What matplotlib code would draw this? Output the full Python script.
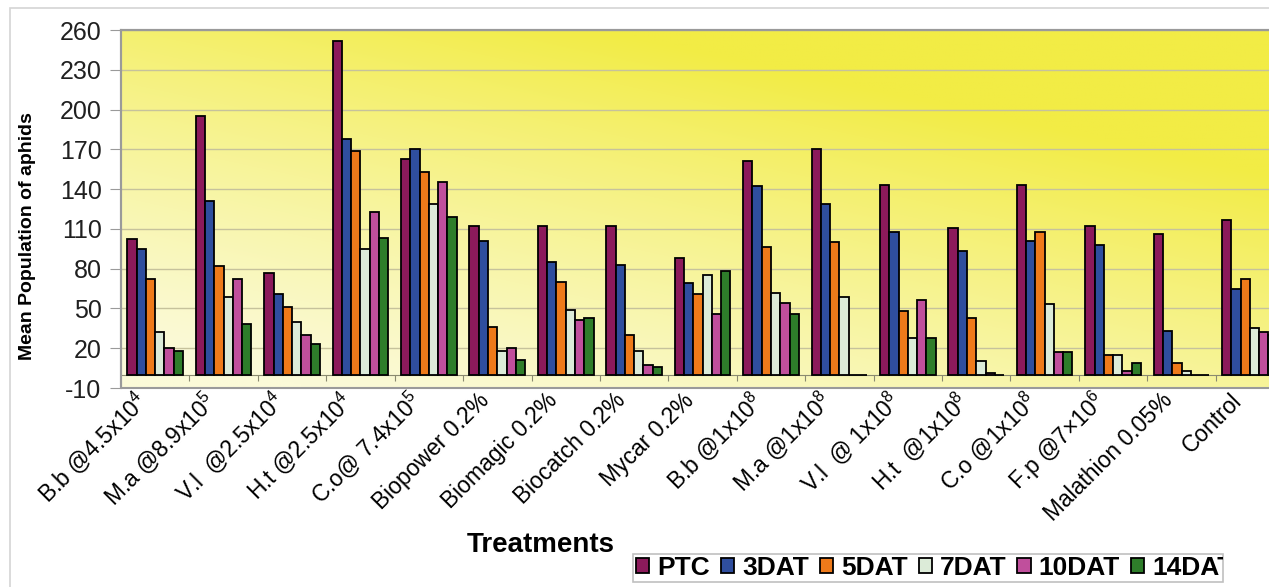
import matplotlib
matplotlib.use("Agg")
import matplotlib.pyplot as plt
import matplotlib.transforms as mtransforms
from matplotlib.patches import Rectangle
from matplotlib.colors import to_rgb
import numpy as np

plt.rcParams['font.family'] = ['Liberation Sans', 'DejaVu Sans']
plt.rcParams['mathtext.fontset'] = 'custom'
plt.rcParams['mathtext.rm'] = 'Liberation Sans'
plt.rcParams['mathtext.it'] = 'Liberation Sans:italic'
plt.rcParams['mathtext.bf'] = 'Liberation Sans:bold'
plt.rcParams['axes.unicode_minus'] = False

# treatments (x categories)
treatments = ["B.b @4.5x10$^{4}$", "M.a @8.9x10$^{5}$", "V.l  @2.5x10$^{4}$",
              "H.t @2.5x10$^{4}$", "C.o@ 7.4x10$^{5}$", "Biopower 0.2%",
              "Biomagic 0.2%", "Biocatch 0.2%", "Mycar 0.2%", "B.b @1x10$^{8}$",
              "M.a @1x10$^{8}$", "V.l  @ 1x10$^{8}$", "H.t  @1x10$^{8}$",
              "C.o @1x10$^{8}$", "F.p @7\u00d710$^{6}$", "Malathion 0.05%", "Control"]

# mean aphid population per observation day
ptc   = [102, 195, 77, 252, 163, 112, 112, 112, 88, 161, 170, 143, 111, 143, 112, 106, 117]
dat3  = [95, 131, 61, 178, 170, 101, 85, 83, 69, 142, 129, 108, 93, 101, 98, 33, 65]
dat5  = [72, 82, 51, 169, 153, 36, 70, 30, 61, 96, 100, 48, 43, 108, 15, 9, 72]
dat7  = [32, 59, 40, 95, 129, 18, 49, 18, 75, 62, 59, 28, 10, 53, 15, 3, 35]
dat10 = [20, 72, 30, 123, 145, 20, 41, 7, 46, 54, 0, 56, 1, 17, 3, 0, 32]
dat14 = [18, 38, 23, 103, 119, 11, 43, 6, 78, 46, 0, 28, 0, 17, 9, 0, 30]

series_names = ["PTC", "3DAT", "5DAT", "7DAT", "10DAT", "14DAT"]
series_vals = [ptc, dat3, dat5, dat7, dat10, dat14]
colors = ["#8C1A5B", "#2F4E9E", "#EE7A1A", "#DCEBD8", "#C04F9C", "#2E7D2A"]

W, H = 1269, 587
fig = plt.figure(figsize=(W / 100, H / 100), dpi=100)
fig.patch.set_facecolor("white")

# outer chart border
fig.patches.append(Rectangle((10 / W, -0.1), 1.2, (H - 8) / H + 0.1, transform=fig.transFigure,
                             fill=False, edgecolor="#D4D4D4", lw=1.2))

ax = fig.add_axes([121 / W, (H - 388) / H, 17 * 68.42 / W, 358 / H])

# yellow gradient plot area
nx, ny = 300, 150
gx, gy = np.meshgrid(np.linspace(0, 1, nx), np.linspace(0, 1, ny))
t = np.clip(0.6 * gx + 0.85 * gy - 0.1, 0, 1) ** 1.2
c0 = np.array(to_rgb("#FBFAD8"))
c1 = np.array(to_rgb("#F2EC45"))
img = c0[None, None, :] * (1 - t[..., None]) + c1[None, None, :] * t[..., None]
ax.imshow(img, extent=[0, 1, 0, 1], transform=ax.transAxes, origin="lower",
          aspect="auto", zorder=-2, interpolation="bilinear")

x = np.arange(len(treatments))
bw = 0.1355
for j, (name, vals, col) in enumerate(zip(series_names, series_vals, colors)):
    ax.bar(x + (j - 2.5) * bw, vals, width=bw, color=col, edgecolor="black",
           linewidth=1.3, label=name, zorder=3)

ax.set_xlim(-0.5, len(treatments) - 0.5)
ax.set_ylim(-10, 260)
ax.set_yticks(np.arange(-10, 261, 30))
ax.yaxis.grid(True, color="#C6C29C", lw=1.0, zorder=1)
ax.set_axisbelow(True)

# category axis at zero with boundary ticks
ax.spines["bottom"].set_position(("data", 0))
ax.spines["bottom"].set_color("#8A8A70")
ax.set_xticks(x[:-1] + 0.5)
ax.set_xticklabels([])
ax.tick_params(axis="x", which="major", direction="out", length=4, color="#8A8A70")
ax.set_xticks(x, minor=True)
ax.set_xticklabels(treatments, minor=True, rotation=45, ha="right", va="center",
                   rotation_mode="anchor", fontsize=16.5)
ax.tick_params(axis="x", which="minor", length=0, pad=16)
offset = mtransforms.ScaledTranslation(-0.12, 0, fig.dpi_scale_trans)
for lab in ax.get_xticklabels(minor=True):
    lab.set_transform(lab.get_transform() + offset)

for s in ["top", "left", "right"]:
    ax.spines[s].set_color("#9A9A9A")
    ax.spines[s].set_linewidth(1.5)
ax.add_patch(Rectangle((0, 0), 1, 1, transform=ax.transAxes, fill=False,
                       edgecolor="#9A9A9A", lw=1.5, zorder=4, clip_on=False))
ax.tick_params(axis="y", direction="out", length=8, color="#9A9A9A", pad=6,
               labelsize=18, labelcolor="#202020")

ax.set_ylabel("Mean Population of aphids", fontsize=14, fontweight="bold")
ax.yaxis.set_label_coords(-0.073, 0.425)
fig.text(541 / W, 1 - 545 / H, "Treatments", fontsize=20, fontweight="bold",
         ha="center", va="center")

# legend with a fixed frame that cuts the last entry
leg = fig.legend(loc="center left", bbox_to_anchor=(636 / W, 1 - 568 / H), ncol=6,
                 frameon=False, prop={"weight": "bold", "size": 19},
                 handlelength=0.5, handleheight=0.5, handletextpad=0.3,
                 columnspacing=0.42, borderpad=0, borderaxespad=0)
frame = Rectangle((633 / W, 1 - 582 / H), (1223 - 633) / W, 28 / H,
                  transform=fig.transFigure, fill=False, edgecolor="#C0C0C0", lw=1.2)
fig.patches.append(frame)
clip = mtransforms.TransformedBbox(mtransforms.Bbox([[633 / W, 0], [1223 / W, 1]]),
                                   fig.transFigure)
for txt in leg.get_texts():
    txt.set_clip_box(clip)
    txt.set_clip_on(True)

fig.savefig("out.png", dpi=100)
